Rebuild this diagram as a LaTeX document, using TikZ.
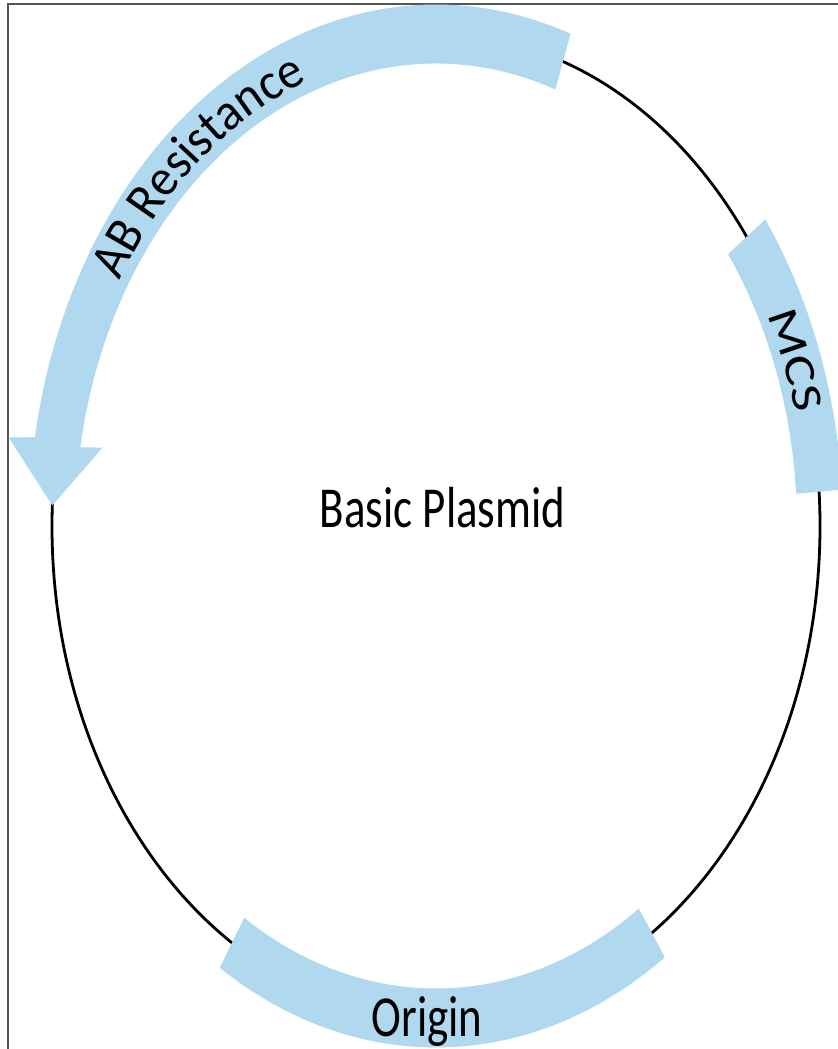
\documentclass[tikz,border=0pt]{standalone}
\usepackage{fontspec}
\setmainfont{Carlito}
\newfontfamily\plasbodyfont[FakeStretch=0.775]{Carlito}
\newfontfamily\plasabfont[FakeStretch=0.95]{Carlito}
\newfontfamily\plasmcsfont[FakeStretch=1.29]{Carlito}
\usetikzlibrary{decorations.text}
\definecolor{bandblue}{RGB}{176,216,239}
\definecolor{framegray}{RGB}{85,85,85}
\newcommand\plasmidfont{\plasbodyfont\fontsize{29}{34}\selectfont}
\newcommand\abresfont{\plasabfont\fontsize{26}{31}\selectfont}
\newcommand\mcslabfont{\plasmcsfont\fontsize{21.5}{26}\selectfont}
\begin{document}
\begin{tikzpicture}[x=0.5pt,y=0.5pt,
  band/.style={fill=bandblue},
  backbone/.style={draw=black,line width=1.4pt},
  frameline/.style={draw=framegray,line width=1pt},
  plasmidlabel/.style={font=\plasmidfont,inner sep=0pt}]
\useasboundingbox (0,0) rectangle (838,1049);
\fill[white] (0,0) rectangle (838,1049);
\draw[frameline] (7.5,0) -- (7.5,1044.5) -- (838,1044.5);
\begin{scope}[shift={(436,523)},yscale=1.28125]
  \draw[backbone] (0,0) circle[radius=384];
  % AB Resistance arrow
  \fill[band] (70.7:407) arc[start angle=70.7,end angle=170.2,radius=407]
    -- (170.8:433) -- (177.6:384) -- (169.6:339) -- (170.2:361)
    arc[start angle=170.2,end angle=70.7,radius=361] -- cycle;
  % MCS
  \fill[band] (4:407) arc[start angle=4,end angle=36,radius=407]
    -- (36:361) arc[start angle=36,end angle=4,radius=361] -- cycle;
  % Origin
  \fill[band] (-122.1:407) arc[start angle=-122.1,end angle=-55.8,radius=407]
    -- (-55.8:361) arc[start angle=-55.8,end angle=-122.1,radius=361] -- cycle;
\end{scope}
\begin{scope}[shift={(436,523)}]
  \path[decorate,decoration={text along path,text={|\abresfont|AB Resistance},text align=center}]
    (163:370 and 474) arc[start angle=163,end angle=93,x radius=370,y radius=474];
  \path[decorate,decoration={text along path,text={|\mcslabfont|MCS},text align=center}]
    (40:370 and 474) arc[start angle=40,end angle=1,x radius=370,y radius=474];
\end{scope}
\node[plasmidlabel,anchor=base] (title) at (442.5,521) {Basic Plasmid};
\node[plasmidlabel,anchor=base] (origin) at (427,12) {Origin};
\end{tikzpicture}
\end{document}
